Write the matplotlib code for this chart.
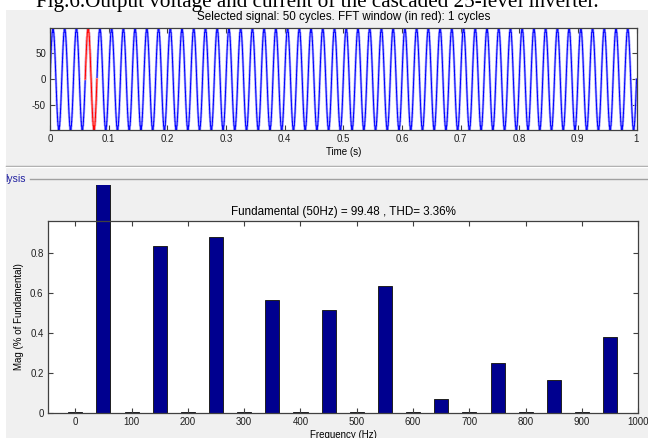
import numpy as np
import matplotlib.pyplot as plt
from matplotlib.patches import Rectangle
from matplotlib.lines import Line2D
from matplotlib.transforms import Bbox, TransformedBbox

plt.rcParams['font.family'] = 'Liberation Sans'
plt.rcParams['font.size'] = 7
plt.rcParams['axes.unicode_minus'] = False

# --- signal parameters (25-level staircase, 50 Hz, 1 s) ---
fund_freq = 50
n_steps = 12          # 25 levels -> 12 steps per half wave
v_peak = 96.5
fft_window = (0.06, 0.08)
time_ticks = [0, 0.1, 0.2, 0.3, 0.4, 0.5, 0.6, 0.7, 0.8, 0.9, 1]
time_ticklabels = ['0', '0.1', '0.2', '0.3', '0.4', '0.5', '0.6', '0.7', '0.8', '0.9', '1']
volt_ticks = [-50, 0, 50]

# --- harmonic spectrum (% of fundamental) ---
freqs = [0, 50, 100, 150, 200, 250, 300, 350, 400, 450,
         500, 550, 600, 650, 700, 750, 800, 850, 900, 950]
mags = [0.006, 100, 0.006, 0.835, 0.006, 0.88, 0.006, 0.563, 0.006, 0.512,
        0.006, 0.634, 0.006, 0.067, 0.006, 0.251, 0.006, 0.164, 0.006, 0.377]
freq_ticks = [0, 100, 200, 300, 400, 500, 600, 700, 800, 900, 1000]
mag_ticks = [0, 0.2, 0.4, 0.6, 0.8]
mag_ticklabels = ['0', '0.2', '0.4', '0.6', '0.8']

W, H = 648, 438
fig = plt.figure(figsize=(W / 100, H / 100), dpi=100)
fig.patch.set_facecolor('white')


def fx(px):
    return px / W


def fy(py):
    return 1 - py / H


# gui background panel, separator and group box line
fig.add_artist(Rectangle((fx(6), 0), 1 - fx(6), fy(10), transform=fig.transFigure,
                         facecolor='#f0f0f0', edgecolor='none', zorder=-10))
fig.add_artist(Line2D([fx(6), 1], [fy(166), fy(166)], transform=fig.transFigure,
                      color='#a0a0a0', lw=1))
fig.add_artist(Line2D([fx(6), 1], [fy(167.2), fy(167.2)], transform=fig.transFigure,
                      color='#ffffff', lw=1))
fig.add_artist(Line2D([fx(30), 1], [fy(179), fy(179)], transform=fig.transFigure,
                      color='#a0a0a0', lw=1))
fig.text(fx(5), fy(179), 'lysis', color='#2020a0', fontsize=7.5, va='center', ha='left')

# caption cut off at the top
fig.text(fx(317), fy(7), 'Fig.6.Output voltage and current of the cascaded 25-level inverter.',
         family='Liberation Serif', fontsize=15.2, ha='center', va='baseline', zorder=20)


def matlab_style(ax):
    for s in ax.spines.values():
        s.set_color('#404040')
        s.set_linewidth(0.9)
    ax.tick_params(direction='in', top=True, right=True, length=3.5, width=0.8,
                   color='#404040', labelcolor='#202020', pad=3)


# --- top: time signal ---
t = np.linspace(0, 1, 40001)
v = v_peak * np.round(n_steps * np.sin(2 * np.pi * fund_freq * t)) / n_steps
win = (t >= fft_window[0]) & (t <= fft_window[1])

ax1 = fig.add_axes([fx(50), fy(130), fx(636.5) - fx(50), fy(28.3) - fy(130)])
ax1.plot(t, v, color='#a8a8ff', lw=1.7)
ax1.plot(t, v, color='#0000ff', lw=0.7)
ax1.plot(t[win], v[win], color='#ffa0a0', lw=1.7)
ax1.plot(t[win], v[win], color='#ff0000', lw=0.7)
ax1.set_xlim(0, 1)
ax1.set_ylim(-v_peak, v_peak)
ax1.set_xticks(time_ticks)
ax1.set_xticklabels(time_ticklabels)
ax1.set_yticks(volt_ticks)
matlab_style(ax1)
ax1.set_xlabel('Time (s)', labelpad=2)
ax1.set_title('Selected signal: 50 cycles. FFT window (in red): 1 cycles', pad=6)

# --- bottom: FFT bars ---
ax2 = fig.add_axes([fx(47.7), fy(412.7), fx(638.3) - fx(47.7), fy(221) - fy(412.7)])
bars = ax2.bar(freqs, mags, width=25, color='#00008f', edgecolor='#202020', lw=0.7)
clip = TransformedBbox(Bbox.from_extents(0, 0, 1, fy(185)), fig.transFigure)
for b in bars:
    b.set_clip_path(None)
    b.set_clip_box(clip)
ax2.set_xlim(-49, 1000)
ax2.set_ylim(0, 0.96)
ax2.set_xticks(freq_ticks)
ax2.set_yticks(mag_ticks)
ax2.set_yticklabels(mag_ticklabels)
matlab_style(ax2)
ax2.set_xlabel('Frequency (Hz)', labelpad=2)
ax2.set_ylabel('Mag (% of Fundamental)', labelpad=4)
ax2.set_title('Fundamental (50Hz) = 99.48 , THD= 3.36%', pad=4)

fig.savefig('out.png', dpi=100, facecolor=fig.get_facecolor())
